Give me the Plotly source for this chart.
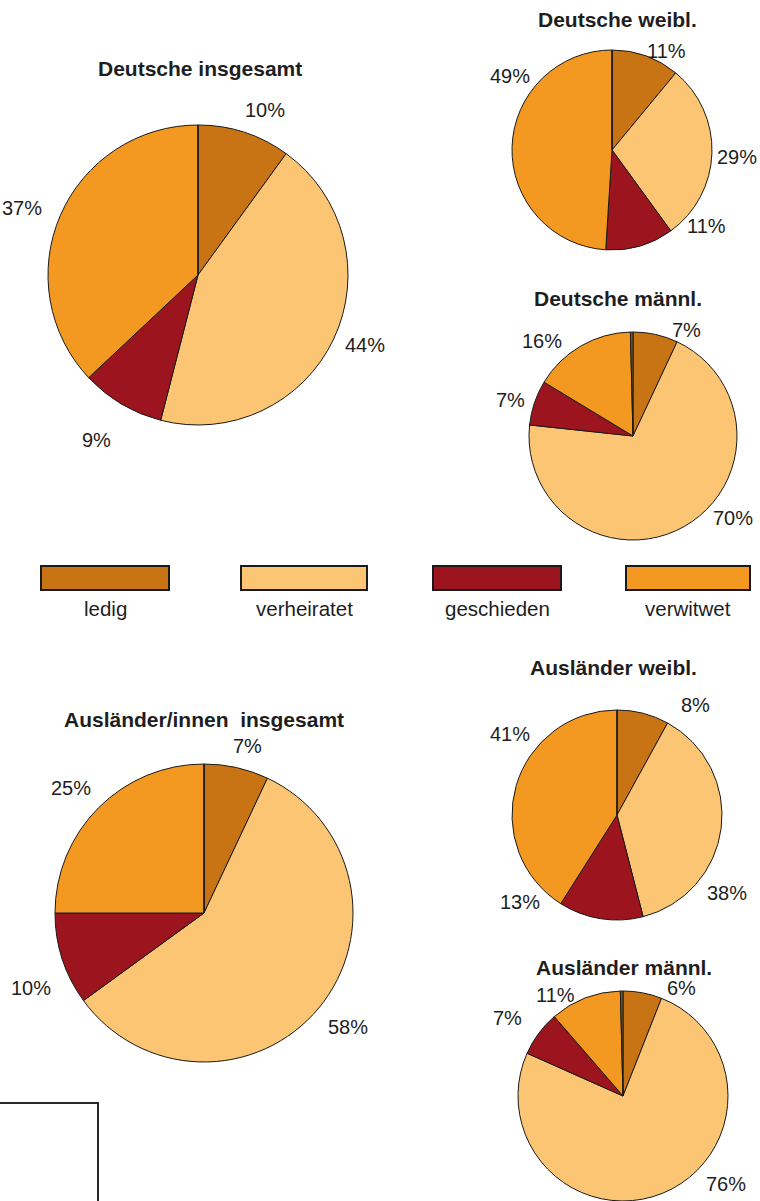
import plotly.graph_objects as go

W, H = 760, 1201

# Marital status categories and colours
categories = ["ledig", "verheiratet", "geschieden", "verwitwet", "ohne Angabe"]
colors = ["#C87314", "#FBC573", "#9B141E", "#F39821", "#7A5A22"]

# Shares in percent per group (last value: tiny remainder without label)
de_ges = [10, 44, 9, 37, 0]
de_w = [11, 29, 11, 49, 0]
de_m = [7, 70, 7, 16, 0.4]
au_ges = [7, 58, 10, 25, 0]
au_w = [8, 38, 13, 41, 0]
au_m = [6, 76, 7, 11, 0.4]

titles = ["Deutsche insgesamt", "Deutsche weibl.", "Deutsche männl.",
          "Ausländer/innen\u00a0 insgesamt", "Ausländer weibl.", "Ausländer männl."]
series = [de_ges, de_w, de_m, au_ges, au_w, au_m]

# Panel geometry in pixels: pie centre, radius, title position, label positions
panels = [
    dict(cx=198, cy=275, r=150, title=(199.5, 69),
         labels=[(265, 110), (365, 345), (96, 440), (22, 208)]),
    dict(cx=612, cy=150, r=100, title=(617.5, 20),
         labels=[(666, 51), (737, 157), (706, 226), (510, 76)]),
    dict(cx=633, cy=436, r=104, title=(618, 299),
         labels=[(686, 330), (733, 518), (510, 400), (542, 341)]),
    dict(cx=204, cy=913, r=149, title=(203.5, 719),
         labels=[(247, 746), (348, 1027), (31, 988), (71, 788)]),
    dict(cx=617, cy=815, r=105, title=(613, 667),
         labels=[(695, 705), (727, 893), (520, 902), (510, 734)]),
    dict(cx=623, cy=1096, r=105, title=(624, 967),
         labels=[(681, 988), (726, 1184), (507, 1018), (555, 995)]),
]

# Legend boxes (x0, x1) and label x-positions
legend_boxes = [(41, 169), (241, 367), (433, 561), (626, 750)]
legend_y = (566, 590)
legend_label_y = 608

FONT = "Liberation Sans, Arial, sans-serif"


def px(x):
    return x / W


def py(y):
    return 1 - y / H


fig = go.Figure()
annotations = []
shapes = []

for title, vals, p in zip(titles, series, panels):
    cx, cy, r = p["cx"], p["cy"], p["r"]
    fig.add_trace(go.Pie(
        labels=categories, values=vals, sort=False, direction="clockwise",
        rotation=0, textinfo="none", hoverinfo="label+percent",
        marker=dict(colors=colors, line=dict(color="#1a1a1a", width=1)),
        domain=dict(x=[px(cx - r), px(cx + r)], y=[py(cy + r), py(cy - r)]),
        showlegend=False,
    ))
    annotations.append(dict(
        x=px(p["title"][0]), y=py(p["title"][1]), xref="paper", yref="paper",
        text=f"<b>{title}</b>", showarrow=False, xanchor="center", yanchor="middle",
        font=dict(family=FONT, size=21, color="#1e1e1e"),
    ))
    for v, (lx, ly) in zip(vals, p["labels"]):
        annotations.append(dict(
            x=px(lx), y=py(ly), xref="paper", yref="paper",
            text=f"{v:.0f}%", showarrow=False, xanchor="center", yanchor="middle",
            font=dict(family=FONT, size=20, color="#1e1e1e"),
        ))

# Legend
for (x0, x1), name, col in zip(legend_boxes, categories, colors):
    shapes.append(dict(
        type="rect", xref="paper", yref="paper",
        x0=px(x0), x1=px(x1), y0=py(legend_y[1]), y1=py(legend_y[0]),
        fillcolor=col, line=dict(color="#1a1a1a", width=2),
    ))
    annotations.append(dict(
        x=px((x0 + x1) / 2), y=py(legend_label_y), xref="paper", yref="paper",
        text=name, showarrow=False, xanchor="center", yanchor="middle",
        font=dict(family=FONT, size=20.5, color="#1e1e1e"),
    ))

# Frame in the lower left corner
shapes.append(dict(
    type="rect", xref="paper", yref="paper",
    x0=px(-5), x1=px(98), y0=py(1215), y1=py(1103),
    line=dict(color="#2a2a2a", width=2), fillcolor="rgba(0,0,0,0)",
))

fig.update_layout(
    width=W, height=H, margin=dict(l=0, r=0, t=0, b=0),
    paper_bgcolor="white", plot_bgcolor="white",
    annotations=annotations, shapes=shapes,
)

fig.write_html("out.html")
